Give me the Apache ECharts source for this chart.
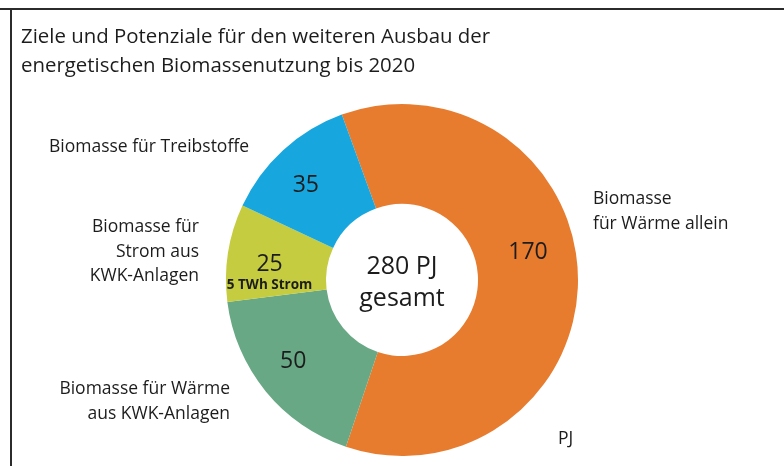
<!DOCTYPE html>
<html>
<head>
<meta charset="utf-8">
<script src="https://cdn.jsdelivr.net/npm/echarts@6/dist/echarts.min.js"></script>
<style>
  html, body { margin: 0; padding: 0; background: #fff; }
  #chart { width: 784px; height: 466px; }
</style>
</head>
<body>
<div id="chart"></div>
<script>
// Biomasse-Anteile in PJ (Ziel 2020)
const categories = ['Biomasse für Wärme allein', 'Biomasse für Wärme aus KWK-Anlagen', 'Biomasse für Strom aus KWK-Anlagen', 'Biomasse für Treibstoffe'];
const values = [170, 50, 25, 35];
const sliceColors = ['#E87C2E', '#68A885', '#C6CC3F', '#18A6DE'];
const totalLabel = '280 PJ';

const font = 'Open Sans';
const textColor = '#1c1c1c';

var myChart = echarts.init(document.getElementById('chart'));

// per-slice label tweaks
const labelOffsets = [[-3, -26], [-9, 0], [-5, 13], [-9, 1]];

const pieData = values.map(function (v, i) {
    const item = {
        name: categories[i],
        value: v,
        itemStyle: { color: sliceColors[i] },
        label: { offset: labelOffsets[i] }
    };
    if (i === 2) {
        item.label.formatter = '{v|{c}}\n{s|5 TWh Strom}';
    }
    return item;
});

function txt(x, y, text, size, align, lineHeight) {
    return {
        type: 'text', x: x, y: y,
        style: {
            text: text, font: size + 'px "' + font + '"', fill: textColor,
            align: align || 'left', verticalAlign: 'top', lineHeight: lineHeight || 24.5
        }
    };
}

var option = {
    backgroundColor: '#fff',
    animation: false,
    graphic: [
        { type: 'line', shape: { x1: 0, y1: 9, x2: 784, y2: 9 }, style: { stroke: '#2b2b2b', lineWidth: 2 } },
        { type: 'line', shape: { x1: 11, y1: 9, x2: 11, y2: 466 }, style: { stroke: '#2b2b2b', lineWidth: 2 } },
        txt(21, 23, 'Ziele und Potenziale für den weiteren Ausbau der\nenergetischen Biomassenutzung bis 2020', 20.4, 'left', 29),
        // outside labels
        txt(49, 135, 'Biomasse für Treibstoffe', 17.5),
        txt(199, 215, 'Biomasse für\nStrom aus\nKWK-Anlagen', 17.5, 'right'),
        txt(230, 377, 'Biomasse für Wärme\naus KWK-Anlagen', 17.5, 'right'),
        txt(593, 187, 'Biomasse\nfür Wärme allein', 17.5),
        txt(558, 427, 'PJ', 17.5),
        // centre
        txt(402, 251, totalLabel + '\ngesamt', 25, 'center', 32)
    ],
    series: [
        {
            type: 'pie',
            center: [402, 280],
            radius: [76, 176],
            startAngle: 110,
            clockwise: true,
            avoidLabelOverlap: false,
            data: pieData,
            itemStyle: { borderWidth: 0 },
            label: {
                show: true,
                position: 'inside',
                formatter: '{c}',
                fontFamily: font,
                fontSize: 23,
                color: textColor,
                rich: {
                    v: { fontFamily: font, fontSize: 23, color: textColor, lineHeight: 25 },
                    s: { fontFamily: font, fontSize: 13.5, fontWeight: 'bold', color: textColor, lineHeight: 17 }
                }
            },
            labelLine: { show: false },
            emphasis: { disabled: true }
        }
    ]
};
myChart.setOption(option);
</script>
</body>
</html>
